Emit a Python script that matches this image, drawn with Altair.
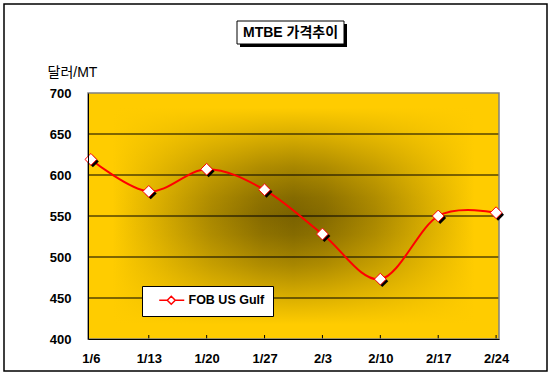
import altair as alt
import pandas as pd

# ---- data ----
dates = ["1/6", "1/13", "1/20", "1/27", "2/3", "2/10", "2/17", "2/24"]
prices = [619, 580, 607, 582, 528, 473, 550, 554]
series_name = "FOB US Gulf"
y_ticks = [400, 450, 500, 550, 600, 650, 700]
grid_values = [450, 500, 550, 600, 650]
chart_title = "MTBE 가격추이"
y_title = "달러/MT"

# ---- style ----
W, H = 411, 246
FONT = "Liberation Sans, 'Noto Sans CJK KR'"
RED = "#FF0000"
GOLD = (255, 204, 0)
DARK = (122, 98, 0)

df = pd.DataFrame({"date": dates, "price": prices, "series": [series_name] * len(dates)})
grid_df = pd.DataFrame({"price": grid_values})
one = pd.DataFrame({"k": [0]})

x_scale = alt.Scale(type="point", domain=dates, padding=0.05)
y_scale = alt.Scale(domain=[400, 700], nice=False, zero=False)

x_axis = alt.Axis(title=None, domainColor="black", domainWidth=1, ticks=False,
                  labelFont=FONT, labelFontWeight="bold", labelFontSize=13,
                  labelColor="black", labelPadding=13, labelAngle=0, grid=False, zindex=1)
y_axis = alt.Axis(values=y_ticks, title=y_title, titleAngle=0, titleX=-41, titleY=-21,
                  titleAlign="left", titleBaseline="middle", titleFont=FONT,
                  titleFontWeight="normal", titleFontSize=14, titleColor="black",
                  ticks=False, labelPadding=17, grid=False, domainColor="black",
                  domainWidth=1, labelFont=FONT, labelFontWeight="bold",
                  labelFontSize=13, labelColor="black", zindex=1)

X = alt.X("date:O", scale=x_scale, axis=x_axis)
Y = alt.Y("price:Q", scale=y_scale, axis=y_axis)

# rectangular-looking gradient built from two linear gradients
profile = [(0.0, 0.0), (0.12, 0.0), (0.35, 0.3), (0.6, 0.65), (0.85, 0.92), (1.0, 1.0)]


def mix(k):
    return [round(g + (d - g) * k) for g, d in zip(GOLD, DARK)]


h_stops = []
v_stops = []
for t, k in profile:
    for off in sorted({t / 2, 1 - t / 2}):
        h_stops.append((off, "rgb(%d,%d,%d)" % tuple(mix(k))))
        v_stops.append((off, "rgba(%d,%d,%d,%.3f)" % (GOLD[0], GOLD[1], GOLD[2], 1 - k)))
h_stops.sort()
v_stops.sort()

h_grad = alt.LinearGradient(gradient="linear", x1=0, x2=1, y1=0, y2=0,
                            stops=[alt.GradientStop(offset=o, color=c) for o, c in h_stops])
v_grad = alt.LinearGradient(gradient="linear", x1=0, x2=0, y1=0, y2=1,
                            stops=[alt.GradientStop(offset=o, color=c) for o, c in v_stops])

full = dict(x=alt.value(0), x2=alt.value(W), y=alt.value(0), y2=alt.value(H))

bg1 = alt.Chart(one).mark_rect(color=h_grad).encode(**full)
bg2 = alt.Chart(one).mark_rect(color=v_grad).encode(**full)
frame = alt.Chart(one).mark_rect(fill=None, stroke="#808080", strokeWidth=1.5).encode(**full)

grid = alt.Chart(grid_df).mark_rule(color="black", strokeWidth=1).encode(y=Y)

ticks = alt.Chart(df).transform_filter(alt.datum.date != dates[0]).mark_rule(
    color="black", strokeWidth=1).encode(x=X, y=alt.value(H), y2=alt.value(H - 4))

legend_path = "M0.6,0L2.2,0M3.8,0L5.6,0M2.2,0L3,-0.8L3.8,0L3,0.8Z"

line = alt.Chart(df).mark_line(interpolate="cardinal", strokeWidth=2).encode(
    x=X, y=Y,
    color=alt.Color("series:N", scale=alt.Scale(range=[RED]),
                    legend=alt.Legend(title=None, orient="none", legendX=54, legendY=193,
                                      fillColor="white", strokeColor="black", padding=8,
                                      symbolType=legend_path, symbolSize=100,
                                      symbolStrokeColor=RED, symbolFillColor="white",
                                      symbolStrokeWidth=1.5, labelFont=FONT,
                                      labelFontSize=12.5, labelFontWeight="bold",
                                      labelColor="black", labelOffset=26)))

shadow = alt.Chart(df).mark_point(shape="diamond", filled=True, color="black", size=140,
                                  opacity=1, xOffset=2, yOffset=2).encode(x=X, y=Y)
points = alt.Chart(df).mark_point(shape="diamond", filled=True, fill="white", stroke=RED,
                                  strokeWidth=1, size=140, opacity=1).encode(x=X, y=Y)

# title box (decoration) and title text
tb_shadow = alt.Chart(one).mark_rect(fill="black").encode(
    x=alt.value(152), x2=alt.value(259), y=alt.value(-69), y2=alt.value(-46))
tb = alt.Chart(one).mark_rect(fill="white", stroke="black", strokeWidth=1).encode(
    x=alt.value(149), x2=alt.value(256), y=alt.value(-72), y2=alt.value(-49))
tt = alt.Chart(one).mark_text(text=chart_title, font=FONT, fontSize=14, fontWeight="bold",
                              color="black", align="center", baseline="middle").encode(
    x=alt.value(202.5), y=alt.value(-60))

outer = alt.Chart(one).mark_rect(fill=None, stroke="black", strokeWidth=1.5).encode(
    x=alt.value(-84), x2=alt.value(459), y=alt.value(-89), y2=alt.value(278))

chart = alt.layer(bg1, bg2, grid, ticks, frame, line, shadow, points,
                  tb_shadow, tb, tt, outer).properties(
    width=W, height=H, autosize="none",
    padding={"left": 88, "top": 93, "right": 54, "bottom": 41},
    background="white",
).configure_view(stroke=None)

chart.save("out.html", embed_options={"renderer": "svg", "actions": False})
